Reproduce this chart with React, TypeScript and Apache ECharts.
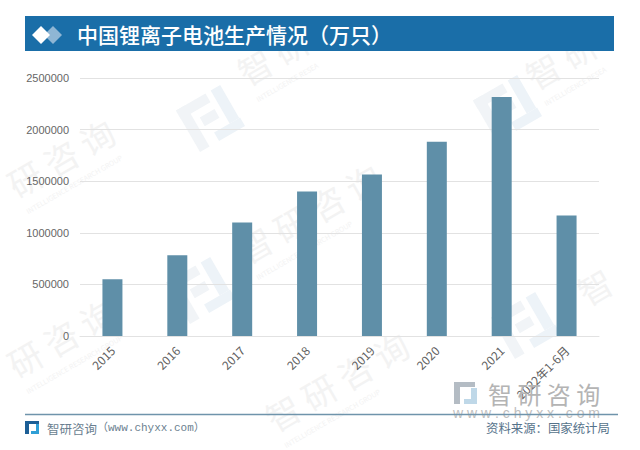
import React, { useEffect, useRef } from "react";
import * as echarts from "echarts";

const categories = ["2015", "2016", "2017", "2018", "2019", "2020", "2021", "2022年1-6月"];
const production = [550000, 782000, 1100000, 1400000, 1564000, 1882000, 2316000, 1168000];
const yTicks = [0, 500000, 1000000, 1500000, 2000000, 2500000];
const titleText = "中国锂离子电池生产情况（万只）";
const brandText = "智研咨询";
const footerBrand = "智研咨询";
const footerUrl = "（www.chyxx.com）";
const footerRight = "资料来源：国家统计局";
const urlText = "w w w . c h y x x . c o m";
const subText = "INTELLIGENCE RESEARCH GROUP";
const watermarkTexts: [number, number, string][] = [
  [250, 92, "智研"],
  [538, 96, "智研"],
  [20, 204, "研咨询"],
  [250, 270, "智研咨询"],
  [20, 384, "研咨询"],
  [278, 438, "智研咨询"],
  [590, 312, "智"],
];
const watermarkLogos: [number, number][] = [
  [215, 118],
  [512, 108],
  [205, 290],
  [530, 325],
];

const CJK = '"Noto Sans CJK SC", "Noto Sans", sans-serif';
const TILT = Math.PI / 6;

function watermarkText(x: number, y: number, text: string) {
  const wide = text.length > 1;
  return {
    type: "group", x, y, rotation: TILT, silent: true, z: 0,
    children: [
      { type: "text", x: 0, y: -20, style: { text: text.split("").join(" "), font: `34px ${CJK}`, fill: "#f3f3f3", verticalAlign: "middle" } },
      ...(wide ? [{ type: "text", x: 2, y: 10, style: { text: subText.slice(0, text.length * 9), font: `7px ${CJK}`, fill: "#f3f3f3", verticalAlign: "middle" } }] : []),
    ],
  };
}

function watermarkLogo(x: number, y: number) {
  const fill = "#f1f4f7";
  return {
    type: "group", x, y, rotation: TILT, silent: true, z: 0,
    children: [
      { type: "rect", shape: { x: -30, y: -26, width: 34, height: 10 }, style: { fill } },
      { type: "rect", shape: { x: -30, y: -26, width: 11, height: 48 }, style: { fill } },
      { type: "rect", shape: { x: -13, y: -8, width: 17, height: 10 }, style: { fill } },
      { type: "rect", shape: { x: 10, y: -26, width: 11, height: 38 }, style: { fill: "#edf3f8" } },
      { type: "rect", shape: { x: -8, y: 12, width: 30, height: 10 }, style: { fill: "#edf3f8" } },
    ],
  };
}

export default function App() {
  const ref = useRef<HTMLDivElement>(null);
  useEffect(() => {
    document.body.style.margin = "0";
    document.body.style.background = "#fff";
    const chart = echarts.init(ref.current!, null, { renderer: "svg" });
    chart.setOption({
      animation: false,
      backgroundColor: "#ffffff",
      grid: { left: 80, right: 41, top: 78, height: 258 },
      xAxis: {
        type: "category",
        data: categories,
        axisLine: { lineStyle: { color: "#e2e2e2", width: 1 } },
        axisTick: { show: false },
        axisLabel: { rotate: 45, color: "#5f5f5f", fontSize: 12, fontFamily: CJK, margin: 12, interval: 0 },
      },
      yAxis: {
        type: "value",
        min: yTicks[0],
        max: yTicks[yTicks.length - 1],
        interval: yTicks[1] - yTicks[0],
        axisLine: { show: false },
        axisTick: { show: false },
        axisLabel: {
          color: "#666666",
          fontSize: 11,
          fontFamily: '"Liberation Sans", Arial, sans-serif',
          margin: 11,
          formatter: (v: number) => String(v),
        },
        splitLine: { lineStyle: { color: "#e2e2e2", width: 1 } },
      },
      series: [
        {
          type: "bar",
          data: production,
          barWidth: 20,
          itemStyle: { color: "#5f8fa8" },
          z: 3,
        },
      ],
      graphic: [
        ...watermarkLogos.map(([x, y]) => watermarkLogo(x, y)),
        ...watermarkTexts.map(([x, y, t]) => watermarkText(x, y, t)),
        { type: "rect", shape: { x: 25, y: 16, width: 589, height: 35 }, style: { fill: "#1a6ea8" }, z: 5 },
        { type: "polygon", shape: { points: [[53, 26], [62, 35], [53, 44], [44, 35]] }, style: { fill: "#8fb6d4" }, z: 6 },
        { type: "polygon", shape: { points: [[41, 26], [50, 35], [41, 44], [32, 35]] }, style: { fill: "#ffffff" }, z: 7 },
        { type: "text", x: 77, y: 34, style: { text: titleText, font: `500 21px ${CJK}`, fill: "#ffffff", verticalAlign: "middle" }, z: 6 },
        { type: "line", shape: { x1: 25, y1: 414.5, x2: 618, y2: 414.5 }, style: { stroke: "#6f94ab", lineWidth: 1.5 }, z: 6 },
        { type: "rect", shape: { x: 25, y: 421, width: 14, height: 3 }, style: { fill: "#1d5f96" }, z: 6 },
        { type: "rect", shape: { x: 25, y: 421, width: 4, height: 13 }, style: { fill: "#1d5f96" }, z: 6 },
        { type: "rect", shape: { x: 31, y: 431, width: 8, height: 3 }, style: { fill: "#2f9fd6" }, z: 6 },
        { type: "rect", shape: { x: 36, y: 424, width: 3, height: 9 }, style: { fill: "#2f9fd6" }, z: 6 },
        { type: "text", x: 47, y: 428, style: { text: footerBrand, font: `12.5px ${CJK}`, fill: "#6b7f90", verticalAlign: "middle" }, z: 6 },
        { type: "text", x: 97, y: 428, style: { text: footerUrl, font: `11px "Liberation Mono", ${CJK}`, fill: "#6b7f90", verticalAlign: "middle" }, z: 6 },
        { type: "text", x: 486, y: 428, style: { text: footerRight, font: `12.4px ${CJK}`, fill: "#55728a", verticalAlign: "middle" }, z: 6 },
        { type: "rect", shape: { x: 454, y: 382, width: 21, height: 5 }, style: { fill: "#b4bcc4" }, z: 2 },
        { type: "rect", shape: { x: 454, y: 382, width: 6, height: 22 }, style: { fill: "#b4bcc4" }, z: 2 },
        { type: "rect", shape: { x: 464, y: 399, width: 13, height: 5 }, style: { fill: "#bfd8e8" }, z: 2 },
        { type: "rect", shape: { x: 471, y: 388, width: 6, height: 14 }, style: { fill: "#bfd8e8" }, z: 2 },
        { type: "text", x: 488, y: 393, style: { text: brandText.split("").join(" "), font: `24px ${CJK}`, fill: "#b4b4b4", verticalAlign: "middle" }, z: 2 },
        { type: "text", x: 453, y: 413, style: { text: urlText, font: `14px "Liberation Sans", sans-serif`, fill: "#c0c0c0", verticalAlign: "middle" }, z: 2 },
      ],
    });
    return () => chart.dispose();
  }, []);
  return <div ref={ref} style={{ width: 640, height: 450 }} />;
}
